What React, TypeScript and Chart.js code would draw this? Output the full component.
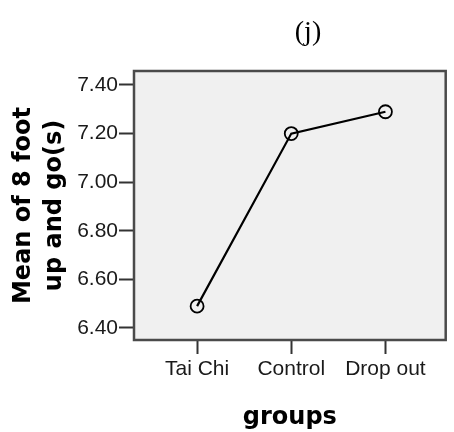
import React, { useEffect, useRef } from 'react';
import { Chart, registerables } from 'chart.js';

Chart.register(...registerables);

// Group means for the 8 foot up-and-go test (seconds)
const groups = ['Tai Chi', 'Control', 'Drop out'];
const meanUpAndGo = [6.49, 7.2, 7.29];
const yTickValues = [6.4, 6.6, 6.8, 7.0, 7.2, 7.4];
const yTitleLines = ['Mean of 8 foot', 'up and go(s)'];
const xTitle = 'groups';
const panelLabel = '(j)';

const WIDTH = 454;
const HEIGHT = 432;

const tickFont = { family: '"Liberation Sans", Arial, sans-serif', size: 21 };
const axisTitleFont = { family: '"DejaVu Sans", Verdana, sans-serif', size: 24, weight: 'bold' as const };

// Light grey plot panel with a dark frame, SPSS style
const plotFrame = {
  id: 'plotFrame',
  beforeDraw(chart: Chart) {
    const { ctx, chartArea: a } = chart;
    ctx.save();
    ctx.fillStyle = '#f0f0f0';
    ctx.fillRect(a.left, a.top, a.right - a.left, a.bottom - a.top);
    ctx.restore();
  },
  beforeDatasetsDraw(chart: Chart) {
    const { ctx, chartArea: a } = chart;
    ctx.save();
    ctx.strokeStyle = '#4a4a4a';
    ctx.lineWidth = 2.5;
    ctx.strokeRect(a.left, a.top, a.right - a.left, a.bottom - a.top);
    ctx.restore();
  },
};

// Panel letter above the plot
const panelTitle = {
  id: 'panelTitle',
  afterDraw(chart: Chart) {
    const { ctx } = chart;
    ctx.save();
    ctx.font = '28px "Liberation Serif", "Times New Roman", serif';
    ctx.fillStyle = '#000';
    ctx.textAlign = 'center';
    ctx.textBaseline = 'alphabetic';
    ctx.fillText(panelLabel, 308, 40);
    ctx.restore();
  },
};

export default function App() {
  const canvasRef = useRef<HTMLCanvasElement | null>(null);

  useEffect(() => {
    const canvas = canvasRef.current;
    if (!canvas) return;

    const chart = new Chart(canvas, {
      type: 'line',
      data: {
        datasets: [
          {
            data: meanUpAndGo.map((v, i) => ({ x: i, y: v })),
            borderColor: '#000',
            borderWidth: 2.2,
            pointRadius: 6.5,
            pointBorderWidth: 1.8,
            pointBorderColor: '#000',
            pointBackgroundColor: 'rgba(0,0,0,0)',
            tension: 0,
          },
        ],
      },
      options: {
        responsive: false,
        animation: false,
        events: [],
        layout: { padding: { top: 71, right: 4, bottom: 0, left: 0 } },
        plugins: {
          legend: { display: false },
          tooltip: { enabled: false },
          title: { display: false },
        },
        scales: {
          x: {
            type: 'linear',
            bounds: 'data',
            min: -0.67,
            max: 2.64,
            afterBuildTicks: (scale: any) => {
              scale.ticks = groups.map((_, i) => ({ value: i }));
            },
            afterFit: (scale: any) => {
              scale.height = 92;
            },
            ticks: {
              autoSkip: false,
              maxRotation: 0,
              padding: 3,
              color: '#1a1a1a',
              font: tickFont,
              callback: (value: any) => groups[Number(value)] ?? '',
            },
            grid: {
              drawOnChartArea: false,
              drawTicks: true,
              tickLength: 14,
              tickWidth: 2,
              tickColor: '#333',
            },
            border: { display: false },
            title: {
              display: true,
              text: xTitle,
              color: '#000',
              font: { ...axisTitleFont, lineHeight: 1.2 },
              padding: { top: 0, bottom: 0 },
            },
          },
          y: {
            type: 'linear',
            bounds: 'data',
            min: 6.3506,
            max: 7.4576,
            afterBuildTicks: (scale: any) => {
              scale.ticks = yTickValues.map((v) => ({ value: v }));
            },
            afterFit: (scale: any) => {
              scale.width = 134;
            },
            ticks: {
              padding: 1,
              color: '#1a1a1a',
              font: tickFont,
              callback: (value: any) => Number(value).toFixed(2),
            },
            grid: {
              drawOnChartArea: false,
              drawTicks: true,
              tickLength: 15,
              tickWidth: 2,
              tickColor: '#333',
            },
            border: { display: false },
            title: {
              display: true,
              text: yTitleLines,
              color: '#000',
              font: { ...axisTitleFont, lineHeight: 1.27 },
              padding: { top: 9, bottom: 0 },
            },
          },
        },
      },
      plugins: [plotFrame, panelTitle],
    });

    return () => {
      chart.destroy();
    };
  }, []);

  return (
    <div style={{ position: 'fixed', left: 0, top: 0, width: WIDTH, height: HEIGHT, background: '#fff' }}>
      <canvas ref={canvasRef} width={WIDTH} height={HEIGHT} style={{ display: 'block' }} />
    </div>
  );
}
